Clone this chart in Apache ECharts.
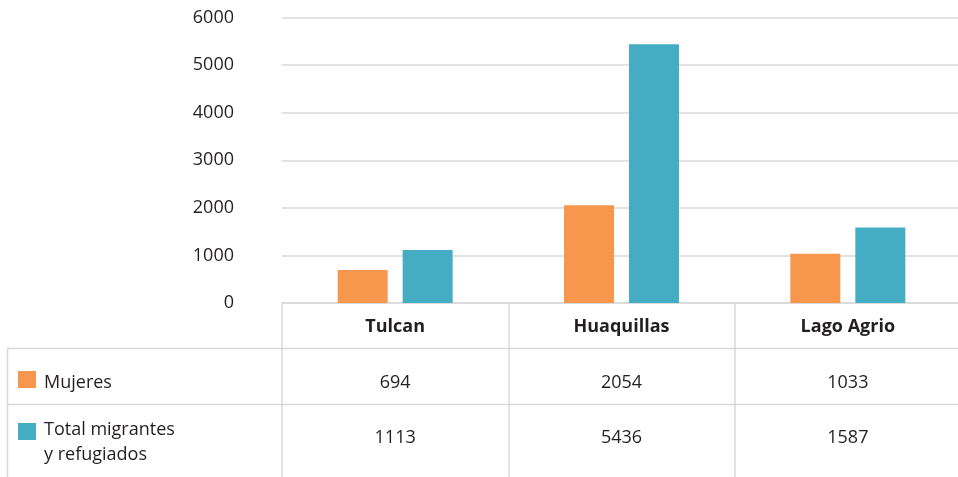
<!DOCTYPE html>
<html lang="es">
<head>
    <meta charset="UTF-8">
    <title>Mujeres y total de migrantes</title>
    <style>
        html, body { margin: 0; padding: 0; background: #fff; }
        #chart { width: 958px; height: 477px; }
    </style>
    <script src="https://cdn.jsdelivr.net/npm/echarts@6/dist/echarts.min.js"></script>
</head>
<body>
<div id="chart"></div>
<script>
    // datos
    var ciudades = ['Tulcan', 'Huaquillas', 'Lago Agrio'];
    var mujeres = [694, 2054, 1033];
    var totalMigrantes = [1113, 5436, 1587];
    var nombres = ['Mujeres', 'Total migrantes\ny refugiados'];
    var colores = ['#F7964D', '#44ADC4'];
    var yMax = 6000;
    var yPaso = 1000;

    var gris = '#D9D9D9';
    var texto = '#231F20';
    var fuente = '"Open Sans", sans-serif';

    var chart = echarts.init(document.getElementById('chart'));

    // columna izquierda de la tabla (cuadro de color + nombre de la serie)
    var leyenda = [
        // lineas de la tabla
        { type: 'line', shape: { x1: 7, y1: 348.5, x2: 958, y2: 348.5 }, style: { stroke: gris, lineWidth: 1.5 } },
        { type: 'line', shape: { x1: 7, y1: 404.5, x2: 958, y2: 404.5 }, style: { stroke: gris, lineWidth: 1.5 } },
        { type: 'line', shape: { x1: 7.5, y1: 348, x2: 7.5, y2: 477 }, style: { stroke: gris, lineWidth: 1.5 } },
        { type: 'rect', shape: { x: 18, y: 371, width: 18, height: 17 }, style: { fill: colores[0] } },
        { type: 'text', style: { text: nombres[0], x: 44, y: 383, verticalAlign: 'middle', font: '18px ' + fuente, fill: texto } },
        { type: 'rect', shape: { x: 18, y: 423, width: 18, height: 17 }, style: { fill: colores[1] } },
        { type: 'text', style: { text: nombres[1], x: 44, y: 417.5, verticalAlign: 'top', lineHeight: 25, font: '18px ' + fuente, fill: texto } }
    ];

    var option = {
        animation: false,
        textStyle: { fontFamily: fuente },
        grid: {
            left: 282,
            right: -3,
            top: 17.5,
            bottom: 174,
            outerBoundsMode: 'none'
        },
        xAxis: [
            {
                // fila de cabecera de la tabla
                type: 'category',
                data: ciudades,
                position: 'bottom',
                axisLine: { show: true, lineStyle: { color: gris, width: 1.5 } },
                axisTick: { show: true, length: 174, lineStyle: { color: gris, width: 1.5 } },
                axisLabel: {
                    margin: 14, fontSize: 18, fontWeight: 'bold', lineHeight: 20, color: texto
                }
            },
            {
                // fila Mujeres
                type: 'category',
                data: ciudades,
                position: 'bottom',
                axisLine: { show: false },
                axisTick: { show: false },
                axisLabel: {
                    margin: 70, fontSize: 18, lineHeight: 20, color: texto,
                    formatter: function (v, i) { return String(mujeres[i]); }
                }
            },
            {
                // fila Total
                type: 'category',
                data: ciudades,
                position: 'bottom',
                axisLine: { show: false },
                axisTick: { show: false },
                axisLabel: {
                    margin: 125, fontSize: 18, lineHeight: 20, color: texto,
                    formatter: function (v, i) { return String(totalMigrantes[i]); }
                }
            }
        ],
        yAxis: {
            type: 'value',
            min: 0,
            max: yMax,
            interval: yPaso,
            axisLine: { show: false },
            axisTick: { show: false },
            axisLabel: {
                margin: 48, fontSize: 18, color: texto,
                formatter: function (v) { return String(v); }
            },
            splitLine: { lineStyle: { color: gris, width: 1.5 } }
        },
        series: [
            {
                name: nombres[0],
                type: 'bar',
                data: mujeres,
                barWidth: 50,
                barGap: '30%',
                itemStyle: { color: colores[0] }
            },
            {
                name: nombres[1],
                type: 'bar',
                data: totalMigrantes,
                barWidth: 50,
                barGap: '30%',
                itemStyle: { color: colores[1] }
            }
        ],
        graphic: leyenda
    };

    chart.setOption(option);
</script>
</body>
</html>
